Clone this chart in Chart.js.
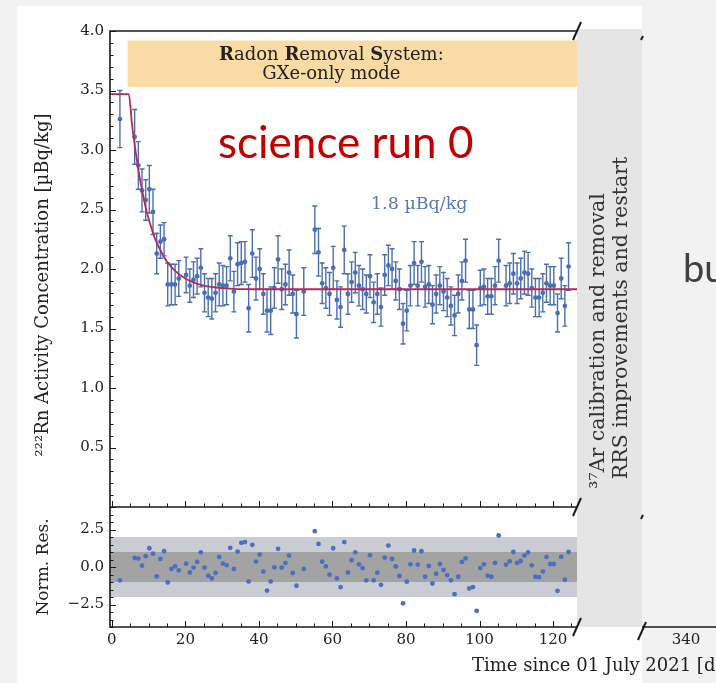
<!DOCTYPE html>
<html>
<head>
<meta charset="utf-8">
<script src="https://cdn.jsdelivr.net/npm/chart.js@4/dist/chart.umd.min.js"></script>
<style>
  html, body { margin: 0; padding: 0; width: 716px; height: 683px; overflow: hidden; background: #f2f2f2; }
  #paper { position: absolute; left: 17px; top: 6px; width: 625px; height: 677px; background: #fff; }
  #band { position: absolute; left: 577px; top: 29px; width: 65px; height: 598px; background: #e5e5e5; }
  canvas { position: absolute; left: 0; top: 0; }
</style>
</head>
<body>
<div id="paper"></div>
<div id="band"></div>
<canvas id="main" width="716" height="683"></canvas>
<canvas id="res" width="716" height="683"></canvas>
<canvas id="far" width="716" height="683"></canvas>
<script>
(function () {
  // measurement days (days since 01 July 2021)
  var days = [
    2.2, 6.2, 7.2, 8.2, 9.2, 10.2, 11.2, 12.2, 13.2, 14.2,
    15.2, 16.2, 17.2, 18.2, 20.2, 21.2, 22.2, 23.2, 24.2, 25.2,
    26.2, 27.2, 28.2, 29.2, 30.2, 31.2, 32.2, 33.2, 34.2, 35.2,
    36.2, 37.2, 38.2, 39.2, 40.2, 41.2, 42.2, 43.2, 44.2, 45.2,
    46.2, 47.2, 48.2, 49.2, 50.2, 52.2, 55.2, 56.2, 57.2, 58.2,
    59.2, 60.2, 61.2, 62.2, 63.2, 64.2, 65.2, 66.2, 67.2, 68.2,
    69.2, 70.2, 71.2, 72.2, 73.2, 74.2, 75.2, 76.2, 77.2, 78.2,
    79.2, 80.2, 81.2, 82.2, 83.2, 84.2, 85.2, 86.2, 87.2, 88.2,
    89.2, 90.2, 91.2, 92.2, 93.2, 94.2, 95.2, 96.2, 97.2, 98.2,
    99.2, 100.2, 101.2, 102.2, 103.2, 104.2, 105.2, 107.2, 108.2, 109.2,
    110.2, 111.2, 112.2, 113.2, 114.2, 115.2, 116.2, 117.2, 118.2, 119.2,
    120.2, 121.2, 122.2, 123.2, 124.2
  ];
  // 222Rn activity concentration [uBq/kg]
  var conc = [
    3.26, 3.11, 2.87, 2.66, 2.58, 2.67, 2.48, 2.13, 2.23, 2.25,
    1.87, 1.87, 1.87, 1.92, 1.95, 1.86, 1.91, 1.94, 2.01, 1.80,
    1.76, 1.75, 1.80, 1.87, 1.86, 1.86, 2.09, 1.81, 2.04, 2.05,
    2.06, 1.67, 2.13, 1.92, 2.00, 1.79, 1.65, 1.65, 1.84, 2.08,
    1.83, 1.87, 1.97, 1.79, 1.62, 1.81, 2.33, 2.14, 1.88, 1.84,
    1.79, 2.01, 1.74, 1.68, 2.16, 1.79, 1.89, 1.97, 1.86, 1.83,
    1.79, 1.94, 1.72, 1.79, 1.68, 1.95, 2.03, 2.00, 1.90, 1.83,
    1.54, 1.65, 1.86, 2.05, 1.86, 2.06, 1.85, 1.87, 1.70, 1.79,
    1.86, 1.81, 1.76, 1.69, 1.61, 1.79, 1.90, 2.07, 1.66, 1.66,
    1.36, 1.84, 1.85, 1.77, 1.77, 1.86, 2.07, 1.86, 1.88, 1.96,
    1.88, 1.92, 1.97, 1.96, 1.84, 1.76, 1.76, 1.80, 1.88, 1.86,
    1.86, 1.63, 1.92, 1.69, 2.02
  ];
  var concErr = [
    0.24, 0.23, 0.20, 0.18, 0.17, 0.20, 0.19, 0.17, 0.14, 0.14,
    0.18, 0.17, 0.17, 0.15, 0.15, 0.14, 0.15, 0.15, 0.16, 0.16,
    0.16, 0.17, 0.16, 0.18, 0.17, 0.16, 0.19, 0.17, 0.18, 0.18,
    0.17, 0.20, 0.20, 0.18, 0.17, 0.17, 0.18, 0.20, 0.17, 0.20,
    0.17, 0.17, 0.19, 0.16, 0.20, 0.20, 0.20, 0.20, 0.17, 0.17,
    0.18, 0.18, 0.16, 0.17, 0.20, 0.17, 0.17, 0.17, 0.17, 0.17,
    0.16, 0.18, 0.17, 0.17, 0.16, 0.17, 0.17, 0.17, 0.16, 0.17,
    0.17, 0.17, 0.17, 0.18, 0.17, 0.17, 0.17, 0.16, 0.16, 0.16,
    0.16, 0.16, 0.16, 0.16, 0.17, 0.16, 0.16, 0.18, 0.16, 0.16,
    0.17, 0.15, 0.15, 0.15, 0.15, 0.16, 0.18, 0.17, 0.17, 0.17,
    0.17, 0.17, 0.18, 0.18, 0.16, 0.16, 0.16, 0.16, 0.16, 0.16,
    0.16, 0.16, 0.17, 0.17, 0.20
  ];
  // normalised residuals
  var normRes = [
    -0.89, 0.60, 0.56, 0.09, 0.72, 1.25, 0.89, -0.63, 0.54, 1.05,
    -1.03, -0.13, 0.04, -0.22, 0.22, -0.36, -0.04, 0.34, 0.98, -0.04,
    -0.58, -0.76, -0.40, 0.67, 0.22, 0.13, 1.28, -0.13, 1.03, 1.61,
    1.66, -0.96, 1.48, 0.36, 0.83, -0.31, -1.57, -0.96, -0.02, 1.21,
    -0.04, 0.27, 0.76, -0.40, -1.25, -0.13, 2.39, 1.54, 0.36, 0.04,
    -0.51, 1.25, -0.76, -1.34, 1.66, -0.36, 0.45, 0.98, 0.18, -0.07,
    -0.89, 0.78, -0.89, -0.38, -1.19, 0.63, 1.43, 0.54, 0.04, -0.60,
    -2.42, -0.98, 0.18, 1.10, 0.16, 1.05, -0.65, 0.07, -1.10, -0.45,
    0.20, -0.20, -0.54, -0.89, -1.81, -0.65, 0.34, 0.58, -1.43, -1.34,
    -2.93, -0.07, 0.18, -0.58, -0.65, 0.27, 2.10, 0.16, 0.38, 1.00,
    0.27, 0.40, 0.76, 0.98, 0.11, -0.65, -0.67, -0.29, 0.67, 0.20,
    0.20, -1.59, 0.67, -0.85, 1.00
  ];
  // fitted model
  var fitDays = [-0.5, 4.6, 5.5, 6.5, 7.5, 8.5, 9.5, 10.5, 11.8, 13, 15, 17, 19, 22, 25, 30, 40, 126.5];
  var fitConc = [3.47, 3.47, 3.21, 2.98, 2.78, 2.62, 2.48, 2.37, 2.25, 2.17, 2.06, 1.99, 1.94, 1.89, 1.86, 1.84, 1.83, 1.83];

  var dayTicks = [0, 20, 40, 60, 80, 100, 120];
  var farDayTicks = [340];
  var concTicks = [0.5, 1.0, 1.5, 2.0, 2.5, 3.0, 3.5, 4.0];
  var resTicks = [-2.5, 0, 2.5];

  var rrsDays = [4.3, 126.5];     // RRS GXe-only box, x range
  var rrsConc = [3.53, 3.92];     // and y range
  var levelLabelAt = [83.6, 2.54];

  var SERIF = "'DejaVu Serif', serif";
  var BLUE = "#4a6fb3";
  var FIT = "#b32b58";
  var INK = "#1a1a1a";

  var W = 716, H = 683;
  var LEFT = 110, RIGHT = 577, TOP = 31, MID = 507, BOT = 627;

  function xy(xs, ys) {
    return xs.map(function (x, i) { return { x: x, y: ys[i] }; });
  }

  function fixedTicks(list) {
    return function (s) { s.ticks = list.map(function (v) { return { value: v }; }); };
  }

  function fmt1(v) {
    var n = Number(v);
    return (n < 0 ? "\u2212" : "") + Math.abs(n).toFixed(1);
  }

  function slash(ctx, x, y) {
    ctx.beginPath();
    ctx.moveTo(x - 4, y + 9);
    ctx.lineTo(x + 4, y - 9);
    ctx.stroke();
  }

  // matplotlib-like inward ticks
  function tickRun(ctx, scale, from, to, step, majorEvery, edge, dir, horizontal) {
    var n = Math.round((to - from) / step);
    for (var i = 0; i <= n; i++) {
      var v = from + i * step;
      var isMajor = Math.abs(v / majorEvery - Math.round(v / majorEvery)) < 1e-6;
      var len = isMajor ? 6 : 3.5;
      var p = Math.round(scale.getPixelForValue(v)) + 0.5;
      ctx.beginPath();
      if (horizontal) { ctx.moveTo(p, edge); ctx.lineTo(p, edge + dir * len); }
      else { ctx.moveTo(edge, p); ctx.lineTo(edge + dir * len, p); }
      ctx.stroke();
    }
  }

  var mainDecor = {
    id: "mainDecor",
    beforeDatasetsDraw: function (chart) {
      var ctx = chart.ctx, xs = chart.scales.x, ys = chart.scales.y;
      ctx.save();
      // RRS box
      var x0 = xs.getPixelForValue(rrsDays[0]), x1 = xs.getPixelForValue(rrsDays[1]);
      var y0 = ys.getPixelForValue(rrsConc[1]), y1 = ys.getPixelForValue(rrsConc[0]);
      ctx.fillStyle = "#fadba3";
      ctx.fillRect(x0, y0, x1 - x0, y1 - y0);
      // error bars
      ctx.strokeStyle = BLUE;
      ctx.lineWidth = 1.4;
      days.forEach(function (d, i) {
        var px = xs.getPixelForValue(d);
        var top = ys.getPixelForValue(conc[i] + concErr[i]);
        var bot = ys.getPixelForValue(conc[i] - concErr[i]);
        ctx.beginPath();
        ctx.moveTo(px, top); ctx.lineTo(px, bot);
        ctx.moveTo(px - 2.5, top); ctx.lineTo(px + 2.5, top);
        ctx.moveTo(px - 2.5, bot); ctx.lineTo(px + 2.5, bot);
        ctx.stroke();
      });
      ctx.restore();
    },
    afterDraw: function (chart) {
      var ctx = chart.ctx, a = chart.chartArea, xs = chart.scales.x, ys = chart.scales.y;
      ctx.save();
      // spines: top, left, bottom
      ctx.strokeStyle = INK;
      ctx.lineWidth = 1.6;
      ctx.beginPath();
      ctx.moveTo(a.right, a.top); ctx.lineTo(a.left, a.top);
      ctx.lineTo(a.left, a.bottom); ctx.lineTo(a.right, a.bottom);
      ctx.stroke();
      ctx.lineWidth = 1;
      tickRun(ctx, ys, 0, 4, 0.1, 0.5, a.left, 1, false);
      tickRun(ctx, xs, 0, 125, 5, 20, a.bottom, -1, true);
      ctx.lineWidth = 2;
      slash(ctx, a.right, a.top);
      slash(ctx, a.right, a.bottom);

      // box text
      var cx = xs.getPixelForValue(59.7);
      ctx.fillStyle = "#222";
      ctx.textBaseline = "middle";
      var parts = [["R", 1], ["adon ", 0], ["R", 1], ["emoval ", 0], ["S", 1], ["ystem:", 0]];
      var total = 0;
      parts.forEach(function (p) {
        ctx.font = (p[1] ? "bold " : "") + "18px " + SERIF;
        total += ctx.measureText(p[0]).width;
      });
      var px = cx - total / 2;
      ctx.textAlign = "left";
      parts.forEach(function (p) {
        ctx.font = (p[1] ? "bold " : "") + "18px " + SERIF;
        ctx.fillText(p[0], px, 55);
        px += ctx.measureText(p[0]).width;
      });
      ctx.font = "18px " + SERIF;
      ctx.textAlign = "center";
      ctx.fillText("GXe-only mode", cx, 74);

      // fitted level label
      ctx.fillStyle = "#5878b8";
      ctx.font = "17.5px " + SERIF;
      ctx.fillText("1.8 \u00b5Bq/kg", xs.getPixelForValue(levelLabelAt[0]), ys.getPixelForValue(levelLabelAt[1]));

      // y axis title
      ctx.fillStyle = "#222";
      ctx.save();
      ctx.translate(43, 285);
      ctx.rotate(-Math.PI / 2);
      ctx.font = "18px " + SERIF;
      ctx.fillText("\u00b2\u00b2\u00b2Rn Activity Concentration [\u00b5Bq/kg]", 0, 0);
      ctx.restore();

      // gap annotation
      ctx.save();
      ctx.fillStyle = "#333";
      ctx.font = "20.5px " + SERIF;
      ctx.translate(599, 341);
      ctx.rotate(-Math.PI / 2);
      ctx.fillText("\u00b3\u2077Ar calibration and removal", 0, 0);
      ctx.fillText("RRS improvements and restart", 23, 23);
      ctx.restore();

      // slide overlay text
      ctx.textAlign = "left";
      ctx.textBaseline = "alphabetic";
      ctx.fillStyle = "#c00000";
      ctx.font = "44px Lato";
      ctx.fillText("science run 0", 218, 158);
      ctx.fillStyle = "#404040";
      ctx.font = "38px Lato";
      ctx.fillText("bu", 683, 282);
      ctx.restore();
    }
  };

  new Chart(document.getElementById("main"), {
    type: "scatter",
    data: {
      datasets: [
        {
          type: "line",
          data: xy(fitDays, fitConc),
          borderColor: FIT,
          borderWidth: 1.8,
          pointRadius: 0,
          cubicInterpolationMode: "monotone",
          fill: false
        },
        {
          data: xy(days, conc),
          backgroundColor: BLUE,
          borderColor: BLUE,
          pointRadius: 2.4,
          pointBorderWidth: 0
        }
      ]
    },
    options: {
      responsive: false,
      animation: false,
      events: [],
      layout: { padding: { left: 30, right: W - RIGHT, top: TOP, bottom: H - MID } },
      plugins: { legend: { display: false }, tooltip: { enabled: false } },
      scales: {
        x: { type: "linear", min: -0.5, max: 126.5, display: false },
        y: {
          type: "linear", min: 0, max: 4,
          afterBuildTicks: fixedTicks(concTicks),
          afterFit: function (s) { s.width = LEFT - 30; },
          grid: { display: false, drawTicks: false },
          border: { display: false },
          ticks: { padding: 6, color: "#222", font: { family: SERIF, size: 15 }, callback: fmt1 }
        }
      }
    },
    plugins: [mainDecor]
  });

  var resDecor = {
    id: "resDecor",
    beforeDatasetsDraw: function (chart) {
      var ctx = chart.ctx, a = chart.chartArea, ys = chart.scales.y;
      ctx.save();
      ctx.fillStyle = "#c9ccd3";
      var t2 = ys.getPixelForValue(2), b2 = ys.getPixelForValue(-2);
      ctx.fillRect(a.left, t2, a.right - a.left, b2 - t2);
      ctx.fillStyle = "#a3a3a3";
      var t1 = ys.getPixelForValue(1), b1 = ys.getPixelForValue(-1);
      ctx.fillRect(a.left, t1, a.right - a.left, b1 - t1);
      ctx.restore();
    },
    afterDraw: function (chart) {
      var ctx = chart.ctx, a = chart.chartArea, xs = chart.scales.x, ys = chart.scales.y;
      ctx.save();
      ctx.strokeStyle = INK;
      ctx.lineWidth = 1.6;
      ctx.beginPath();
      ctx.moveTo(a.left, a.top); ctx.lineTo(a.left, a.bottom); ctx.lineTo(a.right, a.bottom);
      ctx.stroke();
      ctx.lineWidth = 1;
      tickRun(ctx, ys, -4, 4, 0.5, 2.5, a.left, 1, false);
      tickRun(ctx, xs, 0, 125, 5, 20, a.bottom, -1, true);
      ctx.lineWidth = 2;
      slash(ctx, a.right, a.bottom);
      ctx.fillStyle = "#222";
      ctx.font = "18px " + SERIF;
      ctx.textAlign = "left";
      ctx.textBaseline = "middle";
      ctx.fillText("Time since 01 July 2021 [days]", 472, 666);
      ctx.restore();
    }
  };

  new Chart(document.getElementById("res"), {
    type: "scatter",
    data: {
      datasets: [{
        data: xy(days, normRes),
        backgroundColor: "#4a70c2",
        pointRadius: 2.4,
        pointBorderWidth: 0
      }]
    },
    options: {
      responsive: false,
      animation: false,
      events: [],
      layout: { padding: { left: 10, right: W - RIGHT, top: MID, bottom: H - BOT - 30 } },
      plugins: { legend: { display: false }, tooltip: { enabled: false } },
      scales: {
        x: {
          type: "linear", min: -0.5, max: 126.5,
          afterBuildTicks: fixedTicks(dayTicks),
          afterFit: function (s) { s.height = 30; },
          grid: { display: false, drawTicks: false },
          border: { display: false },
          ticks: { padding: 4, maxRotation: 0, color: "#222", font: { family: SERIF, size: 15 }, callback: function (v) { return String(v); } }
        },
        y: {
          type: "linear", min: -4, max: 4,
          afterBuildTicks: fixedTicks(resTicks),
          afterFit: function (s) { s.width = LEFT - 10; },
          grid: { display: false, drawTicks: false },
          border: { display: false },
          title: { display: true, text: "Norm. Res.", color: "#222", font: { family: SERIF, size: 17 }, padding: { top: 23, bottom: 0 } },
          ticks: { padding: 6, color: "#222", font: { family: SERIF, size: 15 }, callback: fmt1 }
        }
      }
    },
    plugins: [resDecor]
  });

  // right-hand panel after the axis break, mostly covered by the slide
  var farDecor = {
    id: "farDecor",
    afterDraw: function (chart) {
      var ctx = chart.ctx, a = chart.chartArea;
      ctx.save();
      ctx.strokeStyle = INK;
      ctx.lineWidth = 1.6;
      ctx.beginPath();
      ctx.moveTo(a.left, a.bottom); ctx.lineTo(a.right, a.bottom);
      ctx.stroke();
      ctx.lineWidth = 2;
      slash(ctx, a.left, a.bottom + 4);
      ctx.beginPath();
      ctx.moveTo(a.left - 1, 40); ctx.lineTo(a.left + 1, 36);
      ctx.moveTo(a.left - 1, 519); ctx.lineTo(a.left + 1, 515);
      ctx.stroke();
      ctx.restore();
    }
  };

  new Chart(document.getElementById("far"), {
    type: "scatter",
    data: { datasets: [{ data: [] }] },
    options: {
      responsive: false,
      animation: false,
      events: [],
      layout: { padding: { left: 642, right: 0, top: TOP, bottom: H - BOT - 30 } },
      plugins: { legend: { display: false }, tooltip: { enabled: false } },
      scales: {
        x: {
          type: "linear", min: 328, max: 348.2,
          afterBuildTicks: fixedTicks(farDayTicks),
          afterFit: function (s) { s.height = 30; },
          grid: { display: false, drawTicks: false },
          border: { display: false },
          ticks: { padding: 4, maxRotation: 0, color: "#222", font: { family: SERIF, size: 15 } }
        },
        y: { type: "linear", min: -4, max: 4, display: false }
      }
    },
    plugins: [farDecor]
  });
})();
</script>
</body>
</html>
